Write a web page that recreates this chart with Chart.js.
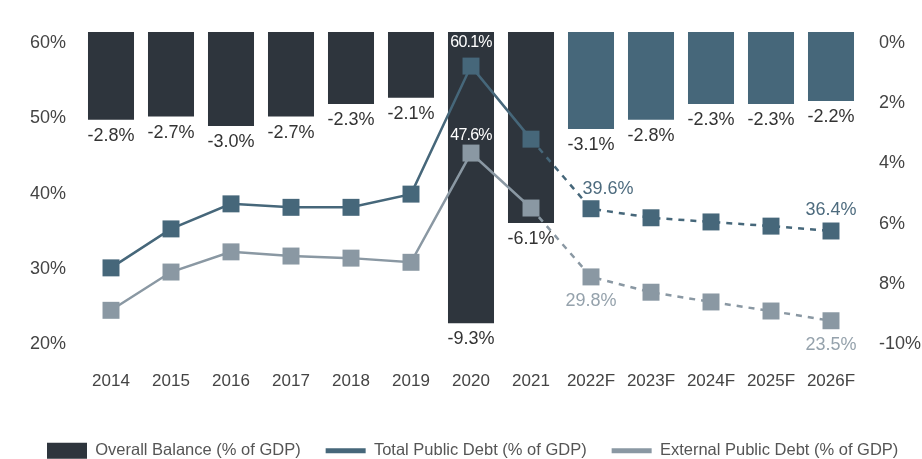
<!DOCTYPE html>
<html>
<head>
<meta charset="utf-8">
<script src="https://cdn.jsdelivr.net/npm/chart.js@4"></script>
<style>
  html, body { margin: 0; padding: 0; background: #fff; }
  #wrap { width: 922px; height: 459px; }
</style>
</head>
<body>
<div id="wrap"><canvas id="grafica"></canvas></div>
<script>
const years = ['2014', '2015', '2016', '2017', '2018', '2019', '2020', '2021', '2022F', '2023F', '2024F', '2025F', '2026F'];
const balance = [-2.8, -2.7, -3.0, -2.7, -2.3, -2.1, -9.3, -6.1, -3.1, -2.8, -2.3, -2.3, -2.2];
const totalDebt = [31.1, 36.7, 40.3, 39.8, 39.8, 41.7, 60.1, 49.6, 39.6, 38.3, 37.7, 37.1, 36.4];
const externalDebt = [25.0, 30.5, 33.4, 32.8, 32.5, 31.9, 47.6, 39.7, 29.8, 27.6, 26.2, 24.9, 23.5];
const leftTicks = [20, 30, 40, 50, 60];
const rightTicks = [0, -2, -4, -6, -8, -10];
const rightTickLabels = ['0%', '2%', '4%', '6%', '8%', '-10%'];
const firstForecast = 8; // 2022F

const OSCURO = '#2e353d';
const AZUL = '#46677a';
const GRIS = '#8a98a3';
const FUENTE = "'Liberation Sans', Arial, sans-serif";

const etiquetas = {
  id: 'etiquetas',
  afterDatasetsDraw(chart, args, opts) {
    const ctx = chart.ctx;
    ctx.save();
    ctx.textAlign = 'center';
    ctx.textBaseline = 'middle';
    chart.data.datasets.forEach((ds, i) => {
      const meta = chart.getDatasetMeta(i);
      const marcas = opts.marcas[i];
      if (!marcas) return;
      meta.data.forEach((el, j) => {
        const m = marcas === 'all' ? opts.barra : marcas[j];
        if (!m) return;
        ctx.font = m.font || ('18px ' + FUENTE);
        ctx.fillStyle = m.color;
        ctx.letterSpacing = m.ls || '0px';
        ctx.fillText(ds.data[j].toFixed(1) + '%', el.x + (m.dx || 0), el.y + m.dy);
      });
    });
    ctx.restore();
  }
};

new Chart(document.getElementById('grafica'), {
  data: {
    labels: years,
    datasets: [
      {
        type: 'bar',
        label: 'Overall Balance (% of GDP)',
        data: balance,
        yAxisID: 'yBal',
        backgroundColor: balance.map((v, i) => i >= firstForecast ? AZUL : OSCURO),
        barPercentage: 0.767,
        categoryPercentage: 1,
        order: 3
      },
      {
        type: 'line',
        label: 'Total Public Debt (% of GDP)',
        data: totalDebt,
        yAxisID: 'yDebt',
        borderColor: AZUL,
        backgroundColor: AZUL,
        borderWidth: 2.5,
        pointStyle: 'rect',
        pointRadius: 12,
        pointBorderWidth: 0,
        tension: 0,
        segment: { borderDash: c => c.p0DataIndex >= firstForecast - 1 ? [6, 6] : undefined },
        order: 1
      },
      {
        type: 'line',
        label: 'External Public Debt (% of GDP)',
        data: externalDebt,
        yAxisID: 'yDebt',
        borderColor: GRIS,
        backgroundColor: GRIS,
        borderWidth: 2.5,
        pointStyle: 'rect',
        pointRadius: 12,
        pointBorderWidth: 0,
        tension: 0,
        segment: { borderDash: c => c.p0DataIndex >= firstForecast - 1 ? [6, 6] : undefined },
        order: 2
      }
    ]
  },
  options: {
    responsive: true,
    maintainAspectRatio: false,
    animation: false,
    layout: { padding: { top: 32, left: 22, right: -20, bottom: -10 } },
    scales: {
      x: {
        offset: true,
        grid: { display: false, drawTicks: false },
        border: { display: false },
        ticks: { font: { family: FUENTE, size: 17 }, color: '#444', padding: 26 }
      },
      yDebt: { display: false, min: 20, max: 65 },
      yBal: { display: false, min: -10, max: 0 },
      yl: {
        position: 'left',
        min: 19.87,
        max: 61.46,
        grid: { display: false, drawTicks: false },
        border: { display: false },
        afterBuildTicks: s => { s.ticks = leftTicks.map(v => ({ value: v })); },
        afterFit: s => { s.width = 59; },
        ticks: { font: { family: FUENTE, size: 18 }, color: '#444', padding: 15, callback: v => v + '%' }
      },
      yr: {
        position: 'right',
        min: -10.033,
        max: 0.365,
        grid: { display: false, drawTicks: false },
        border: { display: false },
        afterBuildTicks: s => { s.ticks = rightTicks.map(v => ({ value: v })); },
        afterFit: s => { s.width = 81; },
        ticks: {
          font: { family: FUENTE, size: 18 }, color: '#444', padding: 18,
          callback: (v, i) => rightTickLabels[i]
        }
      }
    },
    plugins: {
      tooltip: { enabled: false },
      legend: {
        position: 'bottom',
        align: 'start',
        labels: {
          usePointStyle: true,
          pointStyleWidth: 40,
          boxWidth: 40,
          boxHeight: 16,
          padding: 25,
          color: '#555',
          font: { family: FUENTE, size: 16.5 },
          generateLabels: chart => chart.data.datasets.map((ds, i) => ({
            text: ds.label,
            datasetIndex: i,
            pointStyle: ds.type === 'bar' ? 'rect' : 'line',
            fillStyle: ds.type === 'bar' ? OSCURO : ds.borderColor,
            strokeStyle: ds.type === 'bar' ? OSCURO : ds.borderColor,
            lineWidth: ds.type === 'bar' ? 0 : 5,
            fontColor: '#555'
          }))
        }
      },
      etiquetas: {
        barra: { dy: 16, color: '#333' },
        marcas: {
          0: 'all',
          1: {
            6: { dy: -23, color: '#fff', font: '16px ' + FUENTE, ls: '-0.8px' },
            8: { dx: 17, dy: -20, color: '#4d6b7e' },
            12: { dy: -21, color: '#4d6b7e' }
          },
          2: {
            6: { dy: -17, color: '#fff', font: '16px ' + FUENTE, ls: '-0.8px' },
            8: { dy: 24, color: '#95a2ac' },
            12: { dy: 24, color: '#95a2ac' }
          }
        }
      }
    }
  },
  plugins: [etiquetas]
});
</script>
</body>
</html>
